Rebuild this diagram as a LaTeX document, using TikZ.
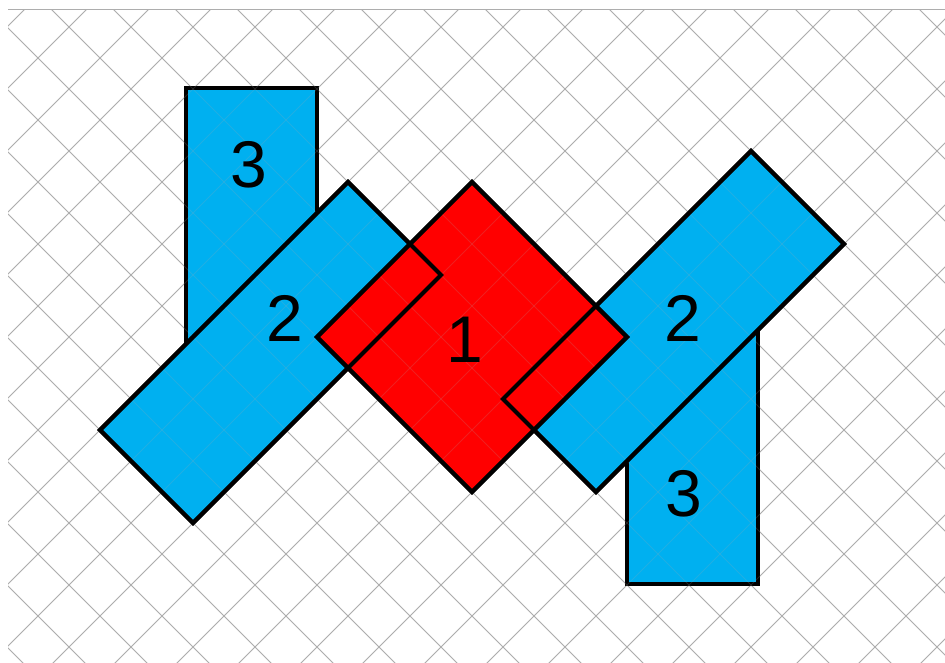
\documentclass[tikz,border=0pt]{standalone}
\usepackage{fontspec}
\setmainfont{Liberation Sans}
\definecolor{tileblue}{RGB}{0,176,240}
\definecolor{tilered}{RGB}{255,0,0}

\begin{document}
\begin{tikzpicture}[
    x=31pt, y=31pt,
    gridline/.style={draw=black!32, line width=1pt},
    tile/.style={fill=#1, draw=black, line width=4pt},
    rim/.style={draw=black, line width=4pt},
    num/.style={inner sep=0pt, font=\fontsize{66}{70}\selectfont},
]
\useasboundingbox ({-38/31},{58/31}) rectangle ({907/31},{-604/31});

% diagonal grid
\begin{scope}
\clip ({-30/31},{49/31}) rectangle ({907/31},{-604/31});
\foreach \k in {-12,...,26} {
  \draw[gridline] (-5,{-5-2*\k}) -- (35,{35-2*\k});
  \draw[gridline] (-5,{2*\k+5}) -- (35,{2*\k-35});
}
\end{scope}
\draw[gridline] ({-30/31},{49/31}) -- ({907/31},{49/31});

% upright bars (3)
\draw[tile=tileblue] (4.76,-0.98) rectangle (9,-10);
\draw[tile=tileblue] (19,-8) rectangle (23.24,-16.98);
% slanted bars (2)
\draw[tile=tileblue] (2,-12) -- (10,-4) -- (13,-7) -- (5,-15) -- cycle;
\draw[tile=tileblue] (15,-11) -- (23,-3) -- (26,-6) -- (18,-14) -- cycle;
% centre square (1)
\draw[tile=tilered] (9,-9) -- (14,-4) -- (19,-9) -- (14,-14) -- cycle;

% grid seen through the tiles
\begin{scope}[opacity=0.18]
\clip ({-30/31},{49/31}) rectangle ({907/31},{-604/31});
\foreach \k in {-12,...,26} {
  \draw[gridline] (-5,{-5-2*\k}) -- (35,{35-2*\k});
  \draw[gridline] (-5,{2*\k+5}) -- (35,{2*\k-35});
}
\end{scope}

% slanted bars interlock with the square
\draw[rim] (2,-12) -- (10,-4) -- (13,-7) -- (5,-15) -- cycle;
\draw[rim] (15,-11) -- (23,-3) -- (26,-6) -- (18,-14) -- cycle;
\draw[rim] (9,-9) -- (14,-4) -- (19,-9) -- (14,-14) -- cycle;

\node[num] (topthree) at (6.81,-3.45)   {3};
\node[num] (lefttwo)  at (7.97,-8.39)   {2};
\node[num] (one)      at (13.77,-9.10)  {1};
\node[num] (righttwo) at (20.81,-8.39)  {2};
\node[num] (lowthree) at (20.84,-14.06) {3};
\end{tikzpicture}
\end{document}
